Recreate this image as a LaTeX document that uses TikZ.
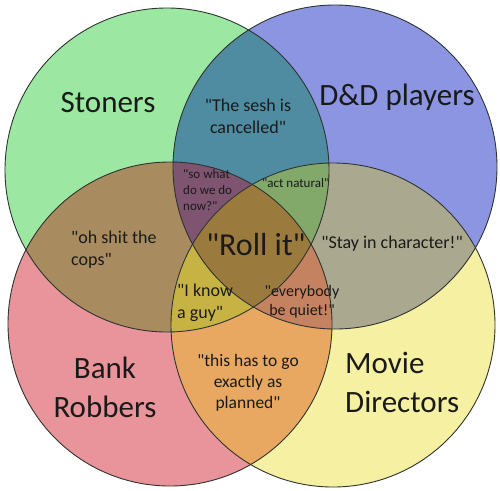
\documentclass[tikz,border=0pt]{standalone}
\usepackage{fontspec}
\setmainfont{Carlito}[Ligatures=TeXOff]
\definecolor{cG}{HTML}{9CE8A3}
\definecolor{cB}{HTML}{8B95E1}
\definecolor{cR}{HTML}{E8949A}
\definecolor{cY}{HTML}{F5F0A2}
\definecolor{cGB}{HTML}{4F8BA1}
\definecolor{cGR}{HTML}{A88B5E}
\definecolor{cBY}{HTML}{AAA98F}
\definecolor{cRY}{HTML}{E8A862}
\definecolor{cGY}{HTML}{9AA870}
\definecolor{cBR}{HTML}{9C7070}
\definecolor{cGBR}{HTML}{7E5470}
\definecolor{cGBY}{HTML}{82A86A}
\definecolor{cGRY}{HTML}{C6B344}
\definecolor{cBRY}{HTML}{C48260}
\definecolor{cALL}{HTML}{9B7A3E}
\definecolor{ink}{HTML}{1A1A1A}
\definecolor{edge}{HTML}{2E3430}
\tikzset{
  lbl/.style={inner sep=0pt, text=ink},
  big/.style={lbl, font=\fontsize{31}{39}\selectfont},
  mid/.style={lbl, font=\fontsize{18}{22}\selectfont},
  small/.style={lbl, font=\fontsize{13}{16}\selectfont},
  ring/.style={draw=edge, line width=0.9pt}
}
\newcommand{\setcirc}[1]{(#1) circle[radius=162pt]}
\begin{document}
\begin{tikzpicture}[x=1pt,y=-1pt]
\useasboundingbox (0,0) rectangle (500,490);
\coordinate (G) at (167,170);
\coordinate (B) at (335,167);
\coordinate (R) at (170,324);
\coordinate (Y) at (333,325);
% single sets
\fill[cG] \setcirc{G};
\fill[cB] \setcirc{B};
\fill[cR] \setcirc{R};
\fill[cY] \setcirc{Y};
% pairs
\begin{scope}\clip \setcirc{G}; \fill[cGB] \setcirc{B}; \end{scope}
\begin{scope}\clip \setcirc{G}; \fill[cGR] \setcirc{R}; \end{scope}
\begin{scope}\clip \setcirc{B}; \fill[cBY] \setcirc{Y}; \end{scope}
\begin{scope}\clip \setcirc{R}; \fill[cRY] \setcirc{Y}; \end{scope}
\begin{scope}\clip \setcirc{G}; \fill[cGY] \setcirc{Y}; \end{scope}
\begin{scope}\clip \setcirc{B}; \fill[cBR] \setcirc{R}; \end{scope}
% triples
\begin{scope}\clip \setcirc{G}; \clip \setcirc{B}; \fill[cGBR] \setcirc{R}; \end{scope}
\begin{scope}\clip \setcirc{G}; \clip \setcirc{B}; \fill[cGBY] \setcirc{Y}; \end{scope}
\begin{scope}\clip \setcirc{G}; \clip \setcirc{R}; \fill[cGRY] \setcirc{Y}; \end{scope}
\begin{scope}\clip \setcirc{B}; \clip \setcirc{R}; \fill[cBRY] \setcirc{Y}; \end{scope}
% all four
\begin{scope}\clip \setcirc{G}; \clip \setcirc{B}; \clip \setcirc{R}; \fill[cALL] \setcirc{Y}; \end{scope}
% outlines
\draw[ring] \setcirc{G};
\draw[ring] \setcirc{B};
\draw[ring] \setcirc{R};
\draw[ring] \setcirc{Y};
% labels (anchor=base of multi-line nodes = baseline of last line)
\node[big, anchor=base] (st) at (108,112) {Stoners};
\node[big, anchor=base] (dd) at (397,105) {D\&D players};
\node[mid, align=center, anchor=base] (sesh) at (248,133) {"The sesh is\\cancelled"};
\node[small, align=left, anchor=base west] (sowhat) at (183,210) {"so what\\do we do\\now?"};
\node[small, anchor=base west] (act) at (262,187) {"act natural"};
\node[lbl, font=\fontsize{32}{38}\selectfont, anchor=base] (roll) at (256,255) {"Roll it"};
\node[mid, align=left, anchor=base west] (cops) at (71,265) {"oh shit the\\cops"};
\node[mid, anchor=base] (stay) at (392,248) {"Stay in character!"};
\node[mid, align=left, anchor=base west] (guy) at (177,318) {"I know\\a guy"};
\node[lbl, font=\fontsize{16}{19}\selectfont, align=center, anchor=base] (quiet) at (302,315) {"everybody\\be quiet!"};
\node[lbl, font=\fontsize{17.5}{21}\selectfont, align=center, anchor=base] (plan) at (248,408) {"this has to go\\exactly as\\planned"};
\node[big, align=center, anchor=base] (bank) at (105,417) {Bank\\Robbers};
\node[big, align=left, anchor=base west] (movie) at (345,412) {Movie\\Directors};
\end{tikzpicture}
\end{document}
